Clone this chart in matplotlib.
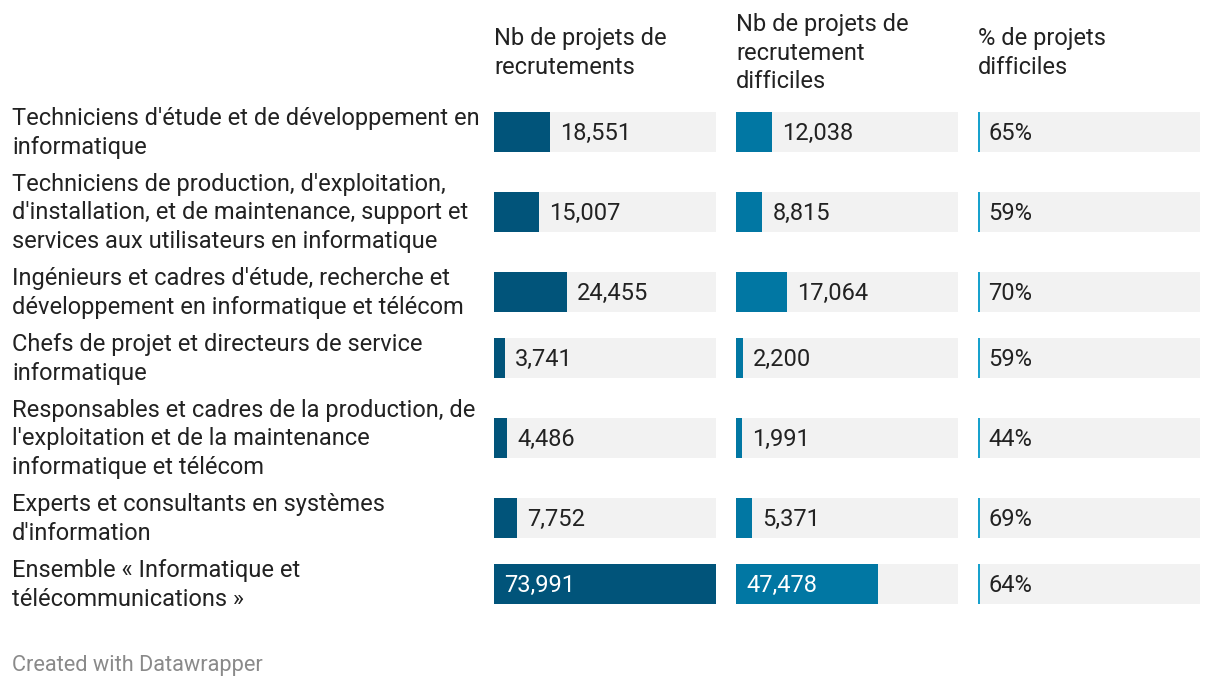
import matplotlib.pyplot as plt
import numpy as np

plt.rcParams['font.family'] = ['Roboto', 'DejaVu Sans']

# --- data ---
labels = [
    "Techniciens d'étude et de développement en\ninformatique",
    "Techniciens de production, d'exploitation,\nd'installation, et de maintenance, support et\nservices aux utilisateurs en informatique",
    "Ingénieurs et cadres d'étude, recherche et\ndéveloppement en informatique et télécom",
    "Chefs de projet et directeurs de service\ninformatique",
    "Responsables et cadres de la production, de\nl'exploitation et de la maintenance\ninformatique et télécom",
    "Experts et consultants en systèmes\nd'information",
    "Ensemble « Informatique et\ntélécommunications »",
]
nb_projets = [18551, 15007, 24455, 3741, 4486, 7752, 73991]
nb_difficiles = [12038, 8815, 17064, 2200, 1991, 5371, 47478]
pct_difficiles = [65, 59, 70, 59, 44, 69, 64]
headers = [
    "Nb de projets de\nrecrutements",
    "Nb de projets de\nrecrutement\ndifficiles",
    "% de projets\ndifficiles",
]

W, H = 1220, 690
fig = plt.figure(figsize=(W / 100, H / 100), dpi=100)

# row layout in pixels (height depends on number of label lines)
line_h = 28
n_lines = np.array([lab.count("\n") + 1 for lab in labels])
row_h = n_lines * line_h + 10
tops = 99 + np.concatenate([[0], np.cumsum(row_h)[:-1]])
centers = tops + row_h / 2
bar_h = 40

fs = 17
ls = 1.29
txt_col = "#222222"
bg_col = "#f2f2f2"
colors = ["#01547a", "#0177a3", "#18a1cd"]

# label column
ax_lab = fig.add_axes([0, 0, 1, 1])
ax_lab.set_xlim(0, W)
ax_lab.set_ylim(H, 0)
ax_lab.axis("off")
for lab, c in zip(labels, centers):
    ax_lab.text(12, c + 1, lab, ha="left", va="center", fontsize=fs,
                color=txt_col, linespacing=ls)
ax_lab.text(12, 665, "Created with Datawrapper", ha="left", va="center",
            fontsize=15.7, color="#8a8a8a")

col_x = [494, 736, 978]
col_w = 222
vmax = max(nb_projets)

for i, (x0, head) in enumerate(zip(col_x, headers)):
    ax = fig.add_axes([x0 / W, 0, col_w / W, 1])
    ax.set_ylim(H, 0)
    ax.axis("off")
    ax_lab.text(x0, 53, head, ha="left", va="center", fontsize=fs,
                color=txt_col, linespacing=ls)
    if i < 2:
        vals = nb_projets if i == 0 else nb_difficiles
        ax.set_xlim(0, vmax)
        ax.barh(centers, [vmax] * len(vals), height=bar_h, color=bg_col, lw=0)
        ax.barh(centers, vals, height=bar_h, color=colors[i], lw=0)
        for v, c in zip(vals, centers):
            s = f"{v:,}"
            bar_px = v / vmax * col_w
            if col_w - bar_px < 100:
                ax.annotate(s, (0, c), xytext=(10, -1), textcoords="offset pixels",
                            ha="left", va="center", fontsize=fs, color="white")
            else:
                ax.annotate(s, (v, c), xytext=(10, -1), textcoords="offset pixels",
                            ha="left", va="center", fontsize=fs, color=txt_col)
    else:
        ax.set_xlim(0, 100)
        ax.barh(centers, [100] * len(pct_difficiles), height=bar_h, color=bg_col, lw=0)
        ax.barh(centers, [0.9] * len(pct_difficiles), height=bar_h, color=colors[2], lw=0)
        for v, c in zip(pct_difficiles, centers):
            ax.annotate(f"{v}%", (0, c), xytext=(10, -1), textcoords="offset pixels",
                        ha="left", va="center", fontsize=fs, color=txt_col)

fig.savefig("out.png", dpi=100)
